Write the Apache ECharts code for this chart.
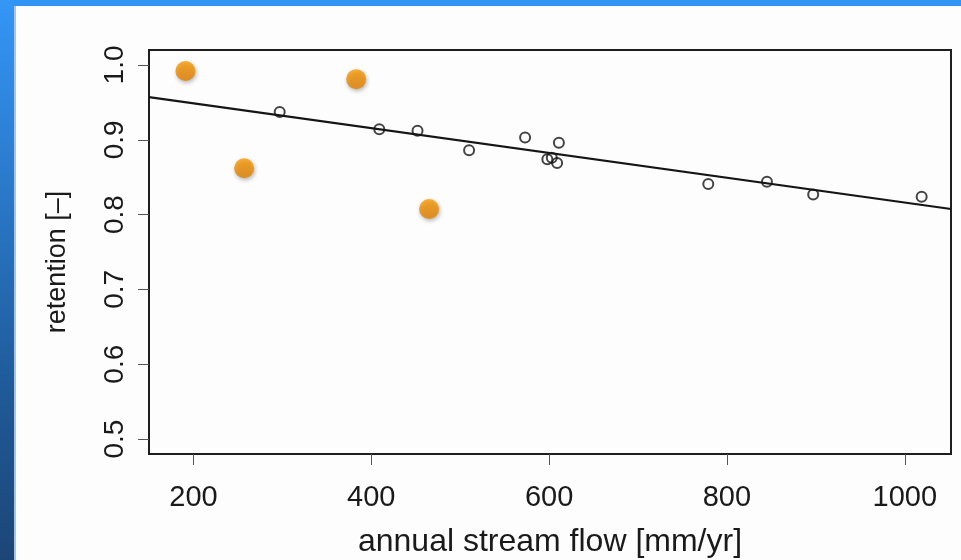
<!DOCTYPE html>
<html>
<head>
<meta charset="utf-8">
<script src="https://cdn.jsdelivr.net/npm/echarts@6/dist/echarts.min.js"></script>
<style>
  html, body { margin: 0; padding: 0; width: 961px; height: 560px; overflow: hidden; background: #ffffff; }
  #frameTop { position: absolute; left: 0; top: 0; width: 961px; height: 6px; background: #3194f2; }
  #frameLeft { position: absolute; left: 0; top: 0; width: 14px; height: 560px;
    background: linear-gradient(to bottom, #3496f6 0%, #2a78c8 35%, #1f5a98 70%, #1c4676 100%); }
  #frameEdge { position: absolute; left: 14px; top: 6px; width: 2px; height: 554px; background: #a9c4e0; }
  #panel { position: absolute; left: 16px; top: 6px; width: 945px; height: 554px; background: #fdfdfd; }
  #chart { position: absolute; left: 0; top: 0; width: 961px; height: 560px; }
</style>
</head>
<body>
<div id="frameTop"></div>
<div id="frameLeft"></div>
<div id="frameEdge"></div>
<div id="panel"></div>
<div id="chart"></div>
<script>
// ---- data ----
const xTicks = [200, 400, 600, 800, 1000];
const xTickLabels = ['200', '400', '600', '800', '1000'];
const yTicks = [0.5, 0.6, 0.7, 0.8, 0.9, 1.0];
const yTickLabels = ['0.5', '0.6', '0.7', '0.8', '0.9', '1.0'];

const circX = [297, 409, 452, 510, 573, 598, 603, 609, 611, 779, 845, 897, 1019];
const circY = [0.937, 0.914, 0.912, 0.886, 0.903, 0.874, 0.876, 0.869, 0.896, 0.841, 0.844, 0.827, 0.824];

const orangeX = [191, 257, 383, 465];
const orangeY = [0.992, 0.862, 0.981, 0.8075];

const fitX = [150, 1052];
const fitY = [0.957, 0.8075];

const xName = 'annual stream flow [mm/yr]';
const yName = 'retention [–]';

// ---- chart ----
const zip = (a, b) => a.map((v, i) => [v, b[i]]);
const pick = (ticks, labels, v) => {
  const i = ticks.findIndex(t => Math.abs(t - v) < 1e-9);
  return i >= 0 ? labels[i] : String(v);
};
const chart = echarts.init(document.getElementById('chart'), null, { renderer: 'canvas' });
const FONT = '"Liberation Sans", Arial, Helvetica, sans-serif';
const TXT = '#1a1a1a';

chart.setOption({
  animation: false,
  backgroundColor: 'transparent',
  grid: {
    left: 149, top: 50, right: 10, bottom: 106,
    outerBoundsMode: 'none', containLabel: false,
    show: true, borderColor: '#1e1e1e', borderWidth: 2, backgroundColor: 'transparent'
  },
  xAxis: {
    type: 'value', min: 150, max: 1052,
    name: xName, nameLocation: 'middle', nameGap: 72,
    nameTextStyle: { fontFamily: FONT, fontSize: 32, color: TXT },
    axisLine: { show: false },
    splitLine: { show: false },
    axisTick: { show: true, customValues: xTicks, length: 11, lineStyle: { color: '#555', width: 1 } },
    axisLabel: {
      customValues: xTicks, margin: 29, fontFamily: FONT, fontSize: 29, color: TXT,
      formatter: v => pick(xTicks, xTickLabels, v)
    }
  },
  yAxis: {
    type: 'value', min: 0.48, max: 1.02,
    name: yName, nameLocation: 'middle', nameGap: 78, nameRotate: 90,
    nameTextStyle: { fontFamily: FONT, fontSize: 27, color: TXT, padding: [0, 20, 0, 0] },
    axisLine: { show: false },
    splitLine: { show: false },
    axisTick: { show: true, customValues: yTicks, length: 11, lineStyle: { color: '#555', width: 1 } },
    axisLabel: {
      customValues: yTicks, rotate: 90, margin: 20, fontFamily: FONT, fontSize: 28, color: TXT,
      formatter: v => pick(yTicks, yTickLabels, v)
    }
  },
  series: [
    {
      type: 'line', data: zip(fitX, fitY), symbol: 'none', silent: true,
      lineStyle: { color: '#151515', width: 2.2 }, z: 2
    },
    {
      type: 'scatter', data: zip(circX, circY), symbol: 'circle', symbolSize: 10,
      itemStyle: { color: 'rgba(255,255,255,0)', borderColor: '#151515', borderWidth: 2 }, z: 3
    },
    {
      type: 'scatter', data: zip(orangeX, orangeY), symbol: 'circle', symbolSize: 20,
      itemStyle: {
        color: new echarts.graphic.LinearGradient(0, 0, 0, 1, [
          { offset: 0, color: '#f99a00' }, { offset: 1, color: '#e37f00' }
        ]),
        shadowBlur: 4, shadowColor: 'rgba(0,0,0,0.35)', shadowOffsetX: 1, shadowOffsetY: 2
      }, z: 4
    }
  ]
});
</script>
</body>
</html>
